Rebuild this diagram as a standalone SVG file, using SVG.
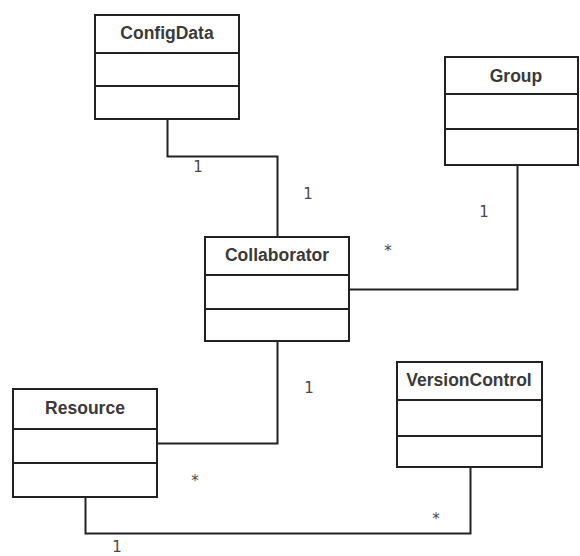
<svg xmlns="http://www.w3.org/2000/svg" width="580" height="556" viewBox="0 0 580 556">
  <style>
    .box { fill: #ffffff; stroke: #222222; stroke-width: 2; }
    .div { stroke: #222222; stroke-width: 2; }
    .name { font-family: "Liberation Sans", Arial, sans-serif; font-weight: bold; font-size: 17.5px; fill: #3a3a3a; text-anchor: middle; }
    .edge { fill: none; stroke: #222222; stroke-width: 2; }
    .mult { font-family: "DejaVu Sans", sans-serif; font-size: 15px; fill: #4a4a4a; text-anchor: middle; }
  </style>
  <rect width="580" height="556" fill="#ffffff"/>

  <g id="connectors">
    <!-- ConfigData to Collaborator -->
    <polyline class="edge" points="167.5,119 167.5,156.5 277.5,156.5 277.5,237"/>
    <!-- Group to Collaborator -->
    <polyline class="edge" points="517.5,165 517.5,289.5 349,289.5"/>
    <!-- Collaborator to Resource -->
    <polyline class="edge" points="277.5,341 277.5,443.5 157,443.5"/>
    <!-- Resource to VersionControl -->
    <polyline class="edge" points="85.5,497 85.5,533.5 470.5,533.5 470.5,467"/>
  </g>

  <g id="labels">
    <text class="mult" x="198" y="172">1</text>
    <text class="mult" x="308" y="199">1</text>
    <text class="mult" x="484" y="217">1</text>
    <text class="mult" x="388" y="256">*</text>
    <text class="mult" x="309" y="393">1</text>
    <text class="mult" x="195" y="486">*</text>
    <text class="mult" x="436" y="524">*</text>
    <text class="mult" x="117" y="552">1</text>
  </g>

  <g id="ConfigData">
    <rect class="box" x="95" y="15" width="144" height="104"/>
    <line class="div" x1="95" y1="53" x2="239" y2="53"/>
    <line class="div" x1="95" y1="86" x2="239" y2="86"/>
    <text class="name" x="167" y="39">ConfigData</text>
  </g>

  <g id="Group">
    <rect class="box" x="445" y="57" width="133" height="108"/>
    <line class="div" x1="445" y1="94" x2="578" y2="94"/>
    <line class="div" x1="445" y1="129" x2="578" y2="129"/>
    <text class="name" x="516" y="82">Group</text>
  </g>

  <g id="Collaborator">
    <rect class="box" x="205" y="237" width="144" height="104"/>
    <line class="div" x1="205" y1="275" x2="349" y2="275"/>
    <line class="div" x1="205" y1="309" x2="349" y2="309"/>
    <text class="name" x="277" y="261">Collaborator</text>
  </g>

  <g id="Resource">
    <rect class="box" x="13" y="389" width="144" height="108"/>
    <line class="div" x1="13" y1="429" x2="157" y2="429"/>
    <line class="div" x1="13" y1="463" x2="157" y2="463"/>
    <text class="name" x="85" y="414">Resource</text>
  </g>

  <g id="VersionControl">
    <rect class="box" x="397" y="362" width="145" height="105"/>
    <line class="div" x1="397" y1="400" x2="542" y2="400"/>
    <line class="div" x1="397" y1="436" x2="542" y2="436"/>
    <text class="name" x="469" y="386">VersionControl</text>
  </g>
</svg>
